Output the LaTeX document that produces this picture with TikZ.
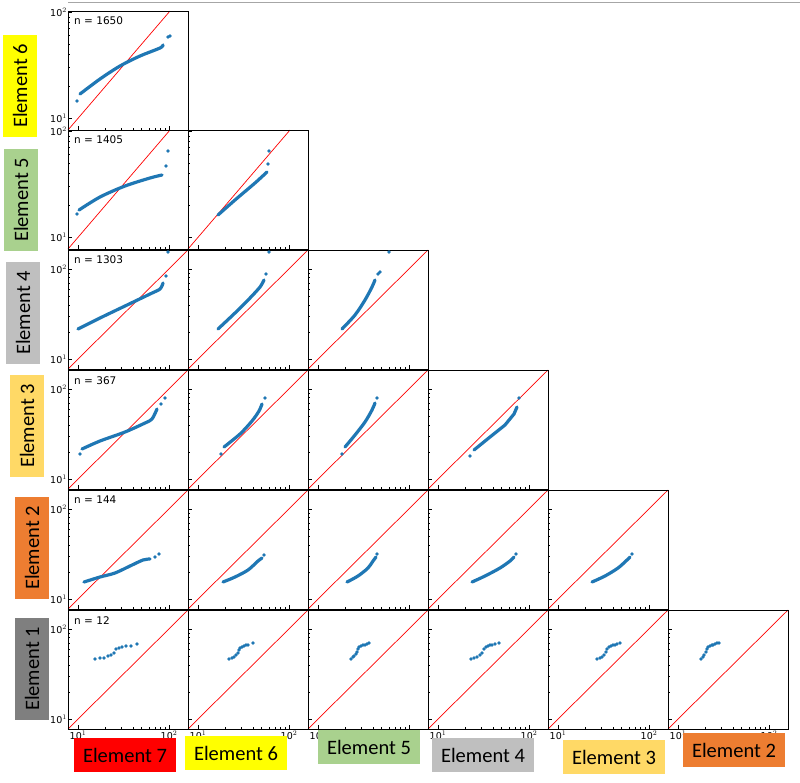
\documentclass[tikz,border=0pt]{standalone}
\usepackage{fontspec}
\setmainfont{Carlito}
\newfontfamily\plotfont{DejaVu Sans}
\definecolor{eyel}{HTML}{FFFF00}
\definecolor{egrn}{HTML}{A9D18E}
\definecolor{egry}{HTML}{BFBFBF}
\definecolor{elor}{HTML}{FFD966}
\definecolor{eorg}{HTML}{ED7D31}
\definecolor{edgy}{HTML}{7F7F7F}
\definecolor{ered}{HTML}{FF0000}
\definecolor{mblue}{HTML}{1F77B4}
\tikzset{
 elab/.style={inner sep=0pt,minimum width=102pt,minimum height=34pt,font=\fontsize{20.5}{22}\selectfont},
 frame/.style={draw=black,line width=0.8pt},
 redl/.style={draw=red,line width=0.7pt},
 qq/.style={draw=mblue,line width=3.2pt,line cap=round,line join=round},
 pt/.style={fill=mblue,draw=none},
 tk/.style={line width=0.5pt},
 nlab/.style={anchor=north west,inner sep=0pt,font=\plotfont\fontsize{10.5}{11}\selectfont},
 tlab/.style={inner sep=0pt,font=\plotfont\fontsize{9.5}{10}\selectfont}
}
\begin{document}
\begin{tikzpicture}[x=1pt,y=-1pt]
\useasboundingbox (0,0) rectangle (800,782);
\fill[white] (0,0) rectangle (800,782);
\draw[gray!70,line width=1pt] (68,2) -- (800,2);
\foreach \r/\T/\dec in {1/11/106,2/130/106,3/250/90,4/370/90,5/490/90,6/610/90}{
 \foreach \c in {1,...,\r}{
  \pgfmathsetmacro\L{68+120*(\c-1)}
  \pgfmathsetmacro\B{\T+119}
  \pgfmathsetmacro\yone{\dec>100 ? \T+107 : \T+109}
  \draw[tk] (\L+10,\B) -- ++(0,-4) (\L+101,\B) -- ++(0,-4);
  \foreach \m in {0.301,0.477,0.602,0.699,0.778,0.845,0.903,0.954}{
   \draw[tk] (\L+10+91*\m,\B) -- ++(0,-2);
  }
  \draw[tk] (\L,\yone) -- ++(4,0) (\L,\yone-\dec) -- ++(4,0);
  \foreach \m in {0.301,0.477,0.602,0.699,0.778,0.845,0.903,0.954}{
   \draw[tk] (\L,\yone-\dec*\m) -- ++(2,0);
  }
  \ifnum\r<3
   \draw[redl] (\L,\B) -- (\L+102,\T);
  \else
   \draw[redl] (\L,\B) -- (\L+120,\T);
  \fi
  \draw[frame] (\L,\T) rectangle (\L+120,\B);
  \ifnum\c=1
   \node[tlab,anchor=east] at (\L-1,\yone) {10$^{1}$};
   \node[tlab,anchor=east] at (\L-1,\yone-\dec) {10$^{2}$};
  \fi
  \ifnum\r=6
   \node[tlab,anchor=north] at (\L+10,\B+2) {10$^{1}$};
   \node[tlab,anchor=north] at (\L+101,\B+2) {10$^{2}$};
  \fi
 }
}
\node[nlab] at (74,17) {n = 1650};
\node[nlab] at (74,136) {n = 1405};
\node[nlab] at (74,256) {n = 1303};
\node[nlab] at (74,376) {n = 367};
\node[nlab] at (74,496) {n = 144};
\node[nlab] at (74,616) {n = 12};
% row 1
\draw[qq] plot[smooth] coordinates {(80,94) (100,79) (120,66) (140,56) (160,48) (163,45)};
\fill[pt] (77,101) circle (1.8) (168,37) circle (1.8) (170,36) circle (1.8);
% row 2
\draw[qq] plot[smooth] coordinates {(79,210) (100,197) (125,186) (150,178) (162,175)};
\fill[pt] (77,214) circle (1.8) (166,166) circle (1.8) (168,151) circle (1.8);
\draw[qq] plot[smooth] coordinates {(218,215) (235,200) (255,183) (267,172)};
\fill[pt] (268,164) circle (1.8) (269,151) circle (1.8);
% row 3
\draw[qq] plot[smooth] coordinates {(78,329) (100,318) (125,306) (150,294) (160,289) (163,283)};
\fill[pt] (166,276) circle (1.8) (168,252) circle (1.8);
\draw[qq] plot[smooth] coordinates {(218,329) (235,313) (250,298) (260,287) (264,280)};
\fill[pt] (266,274) circle (1.8) (269,252) circle (1.8);
\draw[qq] plot[smooth] coordinates {(342,329) (355,315) (365,300) (372,287) (375,280)};
\fill[pt] (378,274) circle (1.8) (380,272) circle (1.8) (389,252) circle (1.8);
% row 4
\draw[qq] plot[smooth] coordinates {(82,449) (100,441) (125,432) (145,423) (152,419) (157,409)};
\fill[pt] (80,454) circle (1.8) (161,404) circle (1.8) (165,398) circle (1.8);
\draw[qq] plot[smooth] coordinates {(224,447) (240,434) (252,421) (259,411) (262,404)};
\fill[pt] (221,454) circle (1.8) (265,398) circle (1.8);
\draw[qq] plot[smooth] coordinates {(345,447) (355,435) (365,422) (372,410) (375,403)};
\fill[pt] (342,454) circle (1.8) (377,398) circle (1.8);
\draw[qq] plot coordinates {(474,450) (490,437) (505,425) (514,414) (517,407)};
\fill[pt] (470,456) circle (1.8) (519,398) circle (1.8);
% row 5
\draw[qq] plot[smooth] coordinates {(84,582) (100,577) (115,573) (130,566) (143,560) (150,559)};
\fill[pt] (155,557) circle (1.8) (159,554) circle (1.8);
\draw[qq] plot[smooth] coordinates {(223,582) (235,577) (248,570) (258,561) (262,558)};
\fill[pt] (264,555) circle (1.8);
\draw[qq] plot[smooth] coordinates {(347,582) (358,576) (368,568) (373,561) (376,557)};
\fill[pt] (377,554) circle (1.8);
\draw[qq] plot[smooth] coordinates {(472,582) (485,576) (500,568) (510,561) (514,557)};
\fill[pt] (516,554) circle (1.8);
\draw[qq] plot[smooth] coordinates {(592,582) (605,576) (618,568) (627,560) (630,557)};
\fill[pt] (632,554) circle (1.8);
% row 6
\foreach \x/\y in {95/659,100/658,104/658,108/656,111/655,114/653,116/649,119/648,122/647,126/646,131/646,137/644}{
 \fill[pt] (\x,\y) circle (1.8);}
\foreach \x/\y in {229/659,232/658,234/657,236/655,238/653,239/650,240/648,242/647,244/646,246/645,248/645,253/643}{
 \fill[pt] (\x,\y) circle (1.8);}
\foreach \x/\y in {351/659,353/657,354/656,356/654,357/652,358/649,359/647,361/646,363/645,365/645,367/644,369/643}{
 \fill[pt] (\x,\y) circle (1.8);}
\foreach \x/\y in {471/659,474/658,477/657,480/655,482/653,484/649,486/647,488/646,490/645,492/645,495/644,499/643}{
 \fill[pt] (\x,\y) circle (1.8);}
\foreach \x/\y in {597/659,600/658,602/657,604/655,606/652,607/649,609/647,611/646,613/645,615/645,617/644,620/643}{
 \fill[pt] (\x,\y) circle (1.8);}
\foreach \x/\y in {701/659,703/657,704/655,706/652,707/649,708/647,710/646,712/645,713/645,715/644,717/643,719/643}{
 \fill[pt] (\x,\y) circle (1.8);}
% left labels
\node[elab,fill=eyel,rotate=90] (l6) at (20,86) {Element 6};
\node[elab,fill=egrn,rotate=90] (l5) at (21,200) {Element 5};
\node[elab,fill=egry,rotate=90] (l4) at (23,313) {Element 4};
\node[elab,fill=elor,rotate=90] (l3) at (27,426) {Element 3};
\node[elab,fill=eorg,rotate=90] (l2) at (32,548) {Element 2};
\node[elab,fill=edgy,rotate=90] (l1) at (32,669) {Element 1};
% bottom labels
\node[elab,fill=ered] (b7) at (125,755) {Element 7};
\node[elab,fill=eyel] (b6) at (236,753) {Element 6};
\node[elab,fill=egrn] (b5) at (369,747) {Element 5};
\node[elab,fill=egry] (b4) at (483,755) {Element 4};
\node[elab,fill=elor] (b3) at (614,757) {Element 3};
\node[elab,fill=eorg] (b2) at (734,750) {Element 2};
\end{tikzpicture}
\end{document}
